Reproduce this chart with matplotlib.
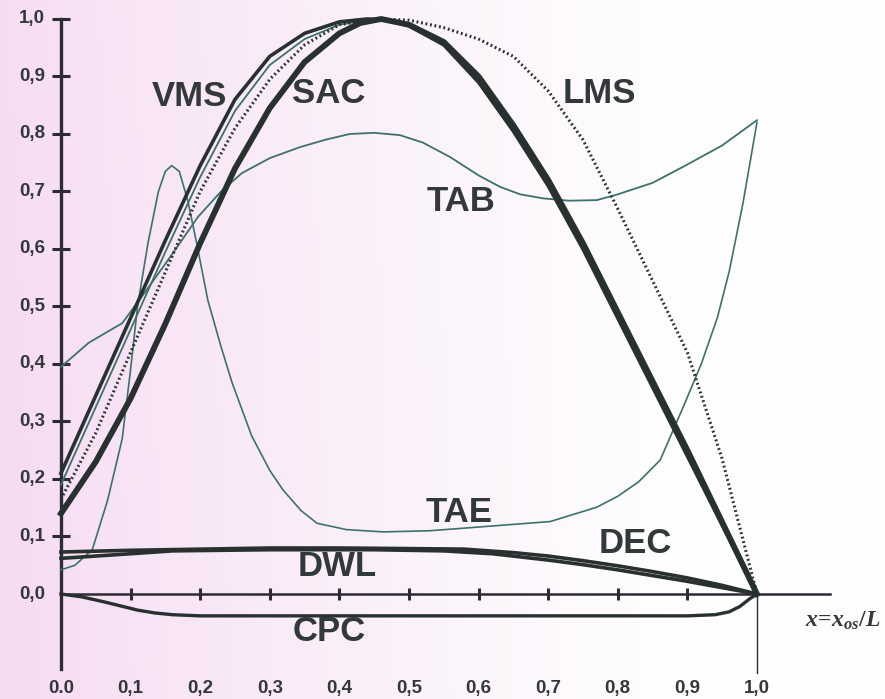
import numpy as np
import matplotlib
matplotlib.use("Agg")
import matplotlib.pyplot as plt

# section-curve coefficients along the hull, x = x_os / L
sac_x = [0, 0.05, 0.1, 0.15, 0.2, 0.25, 0.3, 0.35, 0.4, 0.43, 0.46, 0.5, 0.55, 0.6, 0.65, 0.7, 0.75, 0.8, 0.85, 0.9, 0.95, 1.0]
sac_y = [0.14, 0.23, 0.34, 0.47, 0.61, 0.74, 0.845, 0.925, 0.975, 0.993, 1.0, 0.99, 0.96, 0.90, 0.815, 0.72, 0.61, 0.49, 0.37, 0.25, 0.125, 0.0]

vms_x = [0, 0.05, 0.1, 0.15, 0.2, 0.25, 0.3, 0.35, 0.4, 0.44, 0.47, 0.5, 0.55, 0.6, 0.65, 0.7, 0.75, 0.8, 0.85, 0.9, 0.95, 1.0]
vms_y = [0.21, 0.345, 0.48, 0.615, 0.745, 0.86, 0.935, 0.975, 0.995, 1.0, 0.998, 0.988, 0.955, 0.89, 0.805, 0.71, 0.60, 0.48, 0.36, 0.24, 0.12, 0.0]

lms_x = [0, 0.05, 0.1, 0.15, 0.2, 0.25, 0.3, 0.35, 0.4, 0.45, 0.5, 0.55, 0.6, 0.65, 0.7, 0.75, 0.8, 0.85, 0.9, 0.95, 1.0]
lms_y = [0.165, 0.28, 0.42, 0.56, 0.70, 0.81, 0.895, 0.955, 0.99, 1.0, 0.998, 0.985, 0.965, 0.935, 0.875, 0.79, 0.67, 0.545, 0.42, 0.235, 0.0]

aux_x = [0, 0.05, 0.1, 0.15, 0.2, 0.25, 0.3, 0.35, 0.4, 0.45]
aux_y = [0.19, 0.325, 0.46, 0.595, 0.725, 0.84, 0.92, 0.965, 0.99, 1.0]

tab_x = [0, 0.04, 0.088, 0.116, 0.154, 0.197, 0.23, 0.26, 0.3, 0.343, 0.38, 0.415, 0.45, 0.487, 0.52, 0.559,
         0.6, 0.631, 0.66, 0.693, 0.73, 0.77, 0.8, 0.85, 0.894, 0.95, 1.0]
tab_y = [0.395, 0.437, 0.471, 0.517, 0.581, 0.656, 0.70, 0.732, 0.758, 0.777, 0.79, 0.80, 0.802, 0.798, 0.785, 0.76,
         0.728, 0.708, 0.695, 0.688, 0.684, 0.685, 0.695, 0.715, 0.743, 0.78, 0.824]

tae_x = [0, 0.02, 0.045, 0.067, 0.088, 0.1, 0.11, 0.125, 0.14, 0.15, 0.159, 0.17, 0.182, 0.195, 0.211, 0.23,
         0.246, 0.274, 0.3, 0.319, 0.345, 0.368, 0.41, 0.463, 0.53, 0.606, 0.703, 0.77, 0.8, 0.83, 0.861,
         0.894, 0.92, 0.943, 0.96, 0.98, 1.0]
tae_y = [0.042, 0.05, 0.077, 0.163, 0.27, 0.39, 0.5, 0.61, 0.70, 0.735, 0.745, 0.735, 0.685, 0.61, 0.511, 0.43,
         0.367, 0.275, 0.215, 0.181, 0.145, 0.123, 0.112, 0.108, 0.11, 0.117, 0.126, 0.151, 0.17, 0.195, 0.233,
         0.325, 0.40, 0.48, 0.56, 0.68, 0.82]

dwl_x = [0, 0.1, 0.2, 0.3, 0.4, 0.5, 0.58, 0.65, 0.7, 0.75, 0.8, 0.85, 0.9, 0.95, 1.0]
dwl_y = [0.073, 0.076, 0.078, 0.08, 0.08, 0.079, 0.078, 0.072, 0.066, 0.058, 0.049, 0.039, 0.028, 0.015, 0.0]

dec_x = [0, 0.05, 0.1, 0.16, 0.3, 0.45, 0.55, 0.62, 0.7, 0.75, 0.8, 0.85, 0.9, 0.95, 1.0]
dec_y = [0.062, 0.066, 0.07, 0.075, 0.077, 0.077, 0.075, 0.07, 0.059, 0.051, 0.042, 0.032, 0.022, 0.011, 0.0]

cpc_x = [0, 0.03, 0.063, 0.09, 0.11, 0.135, 0.16, 0.2, 0.3, 0.5, 0.7, 0.9, 0.94, 0.96, 0.975, 0.99, 1.0]
cpc_y = [0, -0.005, -0.014, -0.022, -0.028, -0.033, -0.036, -0.038, -0.038, -0.038, -0.038, -0.038, -0.036,
         -0.031, -0.022, -0.008, 0.0]

x_ticks = [0.0, 0.1, 0.2, 0.3, 0.4, 0.5, 0.6, 0.7, 0.8, 0.9, 1.0]
x_tick_labels = ["0.0", "0,1", "0,2", "0,3", "0,4", "0,5", "0,6", "0,7", "0,8", "0,9", "1,0"]
y_ticks = [0.0, 0.1, 0.2, 0.3, 0.4, 0.5, 0.6, 0.7, 0.8, 0.9, 1.0]
y_tick_labels = ["0,0", "0,1", "0,2", "0,3", "0,4", "0,5", "0,6", "0,7", "0,8", "0,9", "1,0"]

curve_labels = ["VMS", "SAC", "LMS", "TAB", "TAE", "DEC", "DWL", "CPC"]
label_x = [0.184, 0.385, 0.774, 0.575, 0.572, 0.825, 0.397, 0.386]
label_y = [0.866, 0.870, 0.871, 0.683, 0.141, 0.087, 0.047, -0.066]

DARK = "#283030"
TEAL = "#3d716d"
TXT = "#33383b"
AXC = "#2e2a36"

plt.rcParams["mathtext.fontset"] = "custom"
plt.rcParams["mathtext.it"] = "Liberation Serif:italic:bold"
plt.rcParams["mathtext.rm"] = "Liberation Serif:bold"

fig = plt.figure(figsize=(8.85, 6.99), dpi=100)
ax = fig.add_axes([0, 0, 1, 1])
xmin, xmax = -0.0876, 1.184
ymin, ymax = -0.1826, 1.033
ax.set_xlim(xmin, xmax)
ax.set_ylim(ymin, ymax)

# pinkish paper tint fading to white towards the right
gx = np.linspace(0, 1, 400)
gy = np.linspace(0, 1, 300)
GX, GY = np.meshgrid(gx, gy)
t = np.clip(GX / 0.75, 0, 1) ** 0.85
t = np.clip(t - 0.08 * (1 - GY) * (1 - t), 0, 1)
pink = np.array([0.965, 0.865, 0.955])
white = np.array([0.997, 0.997, 0.997])
img = pink[None, None, :] * (1 - t[..., None]) + white[None, None, :] * t[..., None]
ax.imshow(img, extent=[xmin, xmax, ymin, ymax], origin="lower", aspect="auto", zorder=0)

# axes drawn as crossing spines
for s in ["top", "right"]:
    ax.spines[s].set_visible(False)
ax.spines["left"].set_position(("data", 0))
ax.spines["bottom"].set_position(("data", 0))
ax.spines["left"].set_bounds(-0.13, 1.0)
ax.spines["bottom"].set_bounds(0, 1.105)
ax.spines["left"].set_linewidth(2.4)
ax.spines["bottom"].set_linewidth(1.8)
ax.spines["left"].set_color(AXC)
ax.spines["bottom"].set_color(AXC)
ax.set_xticks(x_ticks[1:-1])
ax.set_yticks(y_ticks[1:])
ax.tick_params(axis="x", direction="inout", length=9, width=2.2, color=AXC, labelbottom=False)
ax.tick_params(axis="y", direction="inout", length=13, width=2.2, color=AXC, labelleft=False)
ax.plot([1.0, 1.0], [0.0, -0.137], color=AXC, lw=1.0, zorder=2)

for xv, lab in zip(x_ticks, x_tick_labels):
    ax.text(xv, -0.164, lab, ha="center", va="center", fontsize=13.5, fontweight="bold",
            color=TXT, family="Liberation Sans")
for yv, lab in zip(y_ticks, y_tick_labels):
    ax.text(-0.023, yv, lab, ha="right", va="center", fontsize=13.5, fontweight="bold",
            color=TXT, family="Liberation Sans")

# curves
ax.plot(tab_x, tab_y, color=TEAL, lw=1.3, zorder=3)
ax.plot(tae_x, tae_y, color=TEAL, lw=1.2, zorder=3)
ax.plot(aux_x, aux_y, color=TEAL, lw=1.3, zorder=3)
ax.plot(lms_x, lms_y, color=DARK, lw=2.2, ls=(0, (0.6, 0.9)), zorder=4)
ax.plot(vms_x, vms_y, color=DARK, lw=2.6, zorder=4)
ax.plot(sac_x, sac_y, color=DARK, lw=4.2, zorder=5)
ax.plot(dwl_x, dwl_y, color=DARK, lw=2.6, zorder=4)
ax.plot(dec_x, dec_y, color=DARK, lw=2.6, zorder=4)
ax.plot(cpc_x, cpc_y, color=DARK, lw=2.4, zorder=4)

for lab, lx, ly in zip(curve_labels, label_x, label_y):
    ax.text(lx, ly, lab, ha="center", va="center", fontsize=25, fontweight="bold",
            color=TXT, family="Liberation Sans", zorder=6)

ax.text(1.069, -0.045, r"$x\!=\!x_{os}/L$", ha="left", va="center", fontsize=17, color=TXT)

fig.savefig("out.png", dpi=100)
